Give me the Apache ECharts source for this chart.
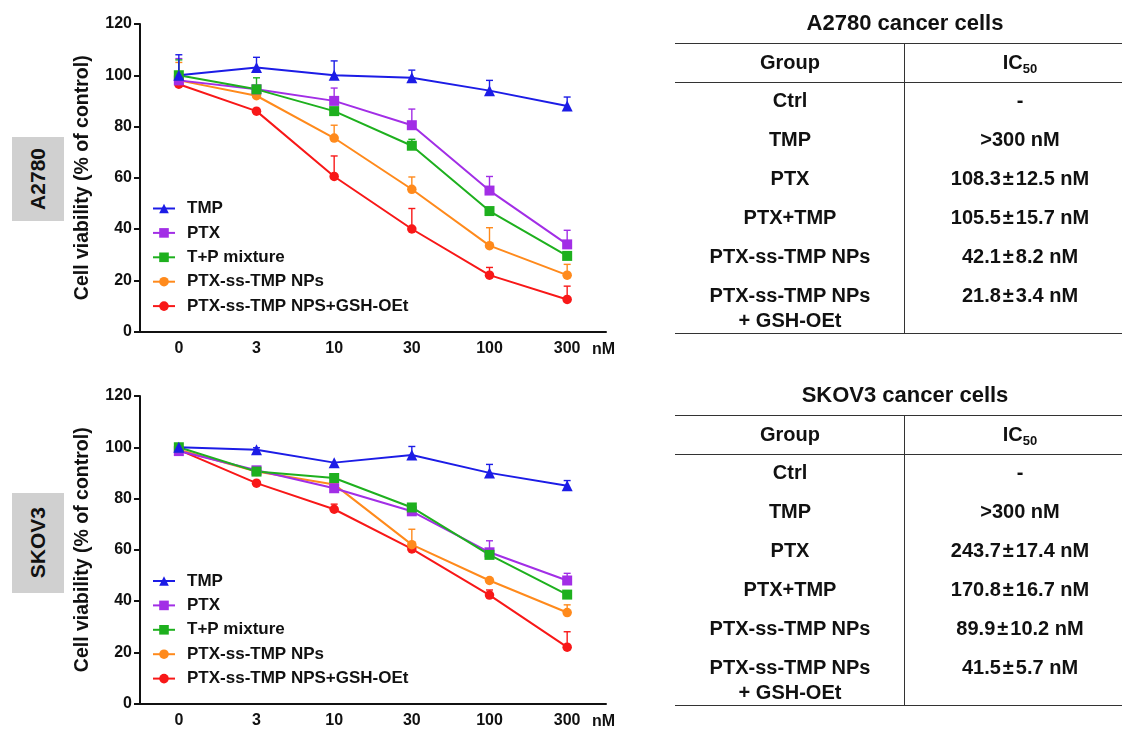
<!DOCTYPE html>
<html><head><meta charset="utf-8">
<script src="https://cdn.jsdelivr.net/npm/echarts@6/dist/echarts.min.js"></script>
<style>
body{margin:0;background:#fff;}
#wrap{position:relative;width:1122px;height:729px;overflow:hidden;font-family:"Liberation Sans",Arial,sans-serif;background:#fff;}
#chart{position:absolute;left:0;top:0;width:1122px;height:729px;}
.t{position:absolute;transform:translate(-50%,-50%);white-space:nowrap;font-weight:bold;color:#111;font-size:20px;line-height:1;}
.t sub{font-size:13px;vertical-align:-4px;line-height:0;}
.pm{margin:0 2px;}
.ttl{font-size:22px;}
.hl{position:absolute;height:1.6px;background:#333;}
.vl{position:absolute;width:1.6px;background:#333;}
.box{position:absolute;background:#d0d0d0;display:flex;align-items:center;justify-content:center;}
.box span{writing-mode:vertical-rl;transform:rotate(180deg);font-weight:bold;font-size:21px;color:#111;}
</style></head>
<body>
<div id="wrap"><div id="chart"></div></div>
<script>
// ---------- data ----------
const categories = ['0', '3', '10', '30', '100', '300'];
const seriesNames = ['TMP', 'PTX', 'T+P mixture', 'PTX-ss-TMP NPs', 'PTX-ss-TMP NPS+GSH-OEt'];

// A2780 (top panel) mean viability and upper SD
const a2780_TMP = [100, 103, 100, 99, 94, 88];
const a2780_TMP_sd = [8, 4, 5.6, 3, 4, 3.5];
const a2780_PTX = [98, 94.5, 90, 80.5, 55, 34];
const a2780_PTX_sd = [8.5, 0, 5, 6.3, 5.5, 5.5];
const a2780_TP = [100, 94.5, 86, 72.5, 47, 29.5];
const a2780_TP_sd = [6, 4.5, 0, 2.5, 0, 0];
const a2780_NP = [98, 92, 75.5, 55.5, 33.5, 22];
const a2780_NP_sd = [7, 3, 5, 4.8, 7, 4.2];
const a2780_GSH = [96.5, 86, 60.5, 40, 22, 12.5];
const a2780_GSH_sd = [0, 0, 8, 8, 3, 5.2];

// SKOV3 (bottom panel)
const skov3_TMP = [100, 99, 94, 97, 90, 85];
const skov3_TMP_sd = [0, 0.8, 0, 3.3, 3.3, 2];
const skov3_PTX = [98.5, 91, 84, 75, 59, 48];
const skov3_PTX_sd = [0, 0, 0, 0, 4.5, 2.8];
const skov3_TP = [100, 90.5, 88, 76.5, 58, 42.5];
const skov3_TP_sd = [0, 0, 0, 1, 0, 0];
const skov3_NP = [99, 90.5, 85.5, 62, 48, 35.5];
const skov3_NP_sd = [0, 0, 0, 6, 0, 3];
const skov3_GSH = [99, 86, 75.8, 60.3, 42.3, 22];
const skov3_GSH_sd = [0, 0, 2, 0, 2, 6];

const yTicks = [0, 20, 40, 60, 80, 100, 120];

// IC50 tables
const tableGroups = ['Ctrl', 'TMP', 'PTX', 'PTX+TMP', 'PTX-ss-TMP NPs', 'PTX-ss-TMP NPs\n+ GSH-OEt'];
const a2780_IC50 = ['-', '>300 nM', '108.3±12.5 nM', '105.5±15.7 nM', '42.1±8.2 nM', '21.8±3.4 nM'];
const skov3_IC50 = ['-', '>300 nM', '243.7±17.4 nM', '170.8±16.7 nM', '89.9±10.2 nM', '41.5±5.7 nM'];

// ---------- styles ----------
const FONT = 'Liberation Sans, Arial, sans-serif';
const colors = ['#1c1ce6', '#a22ee6', '#1eb01e', '#ff8a1c', '#f81818'];
const symbols = ['triangle', 'rect', 'rect', 'circle', 'circle'];
const symSizes = [11, 10, 10, 9.5, 9.5];
const drawOrder = [4, 3, 1, 2, 0]; // red under, blue on top

const panels = [
  {vals: [a2780_TMP, a2780_PTX, a2780_TP, a2780_NP, a2780_GSH],
   sds: [a2780_TMP_sd, a2780_PTX_sd, a2780_TP_sd, a2780_NP_sd, a2780_GSH_sd], top: 24, legendTop: 200},
  {vals: [skov3_TMP, skov3_PTX, skov3_TP, skov3_NP, skov3_GSH],
   sds: [skov3_TMP_sd, skov3_PTX_sd, skov3_TP_sd, skov3_NP_sd, skov3_GSH_sd], top: 396, legendTop: 572.5}
];

const grids = [], xAxes = [], yAxes = [], series = [], legends = [];
panels.forEach((p, g) => {
  grids.push({left: 140, top: p.top, width: 466, height: 307.5, containLabel: false, outerBoundsMode: 'none'});
  xAxes.push({
    type: 'category', gridIndex: g, data: categories, boundaryGap: true,
    axisLine: {lineStyle: {color: '#111', width: 2}},
    axisTick: {alignWithLabel: true, length: 6, lineStyle: {color: '#111', width: 2}},
    axisLabel: {margin: 9, color: '#111', fontWeight: 'bold', fontSize: 16, fontFamily: FONT},
    splitLine: {show: false},
    name: 'nM', nameLocation: 'end', nameGap: -14,
    nameTextStyle: {color: '#111', fontWeight: 'bold', fontSize: 16, fontFamily: FONT, verticalAlign: 'top', padding: [10, 0, 0, 0]}
  });
  yAxes.push({
    type: 'value', gridIndex: g, min: yTicks[0], max: yTicks[yTicks.length - 1], interval: 20,
    axisLine: {show: true, lineStyle: {color: '#111', width: 2}},
    axisTick: {show: true, length: 6, lineStyle: {color: '#111', width: 2}},
    axisLabel: {margin: 8, color: '#111', fontWeight: 'bold', fontSize: 16, fontFamily: FONT},
    splitLine: {show: false},
    name: 'Cell viability (% of control)', nameLocation: 'middle', nameGap: 47,
    nameTextStyle: {color: '#111', fontWeight: 'bold', fontSize: 19.5, fontFamily: FONT}
  });
  drawOrder.forEach((k) => {
    const color = colors[k];
    const sdData = p.vals[k].map((v, i) => [i, v, p.sds[k][i]]).filter(d => d[2] > 0);
    series.push({
      type: 'custom', name: seriesNames[k] + ' SD', xAxisIndex: g, yAxisIndex: g, silent: true,
      data: sdData, encode: {x: 0, y: 1}, z: 2,
      renderItem: function (params, api) {
        const i = api.value(0), v = api.value(1), e = api.value(2);
        const a = api.coord([i, v]), b = api.coord([i, v + e]);
        const st = {stroke: color, lineWidth: 1.4};
        return {type: 'group', children: [
          {type: 'line', shape: {x1: a[0], y1: a[1], x2: b[0], y2: b[1]}, style: st},
          {type: 'line', shape: {x1: b[0] - 3.5, y1: b[1], x2: b[0] + 3.5, y2: b[1]}, style: st}
        ]};
      }
    });
    series.push({
      type: 'line', name: seriesNames[k], xAxisIndex: g, yAxisIndex: g, data: p.vals[k],
      symbol: symbols[k], symbolSize: symSizes[k], showSymbol: true,
      itemStyle: {color: color}, lineStyle: {color: color, width: 2}, z: 3,
      emphasis: {disabled: true}
    });
  });
  legends.push({
    orient: 'vertical', left: 152, top: p.legendTop, padding: 0,
    itemWidth: 22, itemHeight: 12, itemGap: 7.4, selectedMode: false,
    data: seriesNames,
    textStyle: {color: '#111', fontWeight: 'bold', fontSize: 17, fontFamily: FONT, lineHeight: 15, padding: [0, 0, 0, 7]}
  });
});

const chart = echarts.init(document.getElementById('chart'), null, {renderer: 'canvas'});
chart.setOption({
  animation: false,
  backgroundColor: 'transparent',
  textStyle: {fontFamily: FONT},
  grid: grids, xAxis: xAxes, yAxis: yAxes, legend: legends, series: series
});

// ---------- side labels and tables ----------
const wrap = document.getElementById('wrap');
function el(cls, style, html) {
  const d = document.createElement('div');
  d.className = cls;
  Object.assign(d.style, style);
  if (html !== undefined) d.innerHTML = html;
  wrap.appendChild(d);
  return d;
}
el('box', {left: '12px', top: '137px', width: '52px', height: '84px'}, '<span>A2780</span>');
el('box', {left: '12px', top: '493px', width: '52px', height: '100px'}, '<span>SKOV3</span>');

function fmt(s) { return s.replace('±', '<span class="pm">±</span>'); }
function buildTable(off, title, values) {
  const c1 = 790, c2 = 1020;
  el('t ttl', {left: '905px', top: (off + 23) + 'px'}, title);
  el('hl', {left: '675px', width: '447px', top: (off + 42.5) + 'px'});
  el('hl', {left: '675px', width: '447px', top: (off + 81.5) + 'px'});
  el('hl', {left: '675px', width: '447px', top: (off + 332.5) + 'px'});
  el('vl', {left: '903.5px', top: (off + 42.5) + 'px', height: '291px'});
  el('t', {left: c1 + 'px', top: (off + 62) + 'px'}, 'Group');
  el('t', {left: c2 + 'px', top: (off + 62) + 'px'}, 'IC<sub>50</sub>');
  const rowY = [100, 138.5, 177.5, 216.5, 256, 294.5];
  tableGroups.forEach((g, i) => {
    g.split('\n').forEach((line, j) => {
      el('t', {left: c1 + 'px', top: (off + rowY[i] + 25 * j) + 'px'}, line);
    });
    el('t', {left: c2 + 'px', top: (off + rowY[i]) + 'px'}, fmt(values[i]));
  });
}
buildTable(0, 'A2780 cancer cells', a2780_IC50);
buildTable(372, 'SKOV3 cancer cells', skov3_IC50);
</script>
</body></html>
